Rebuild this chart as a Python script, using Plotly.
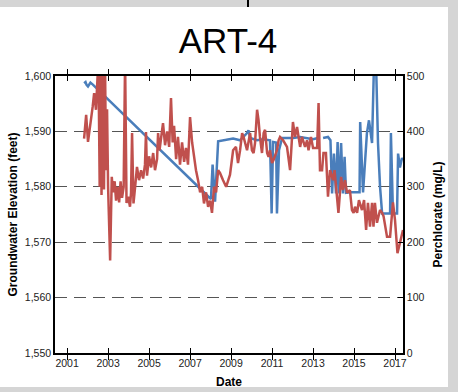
import plotly.graph_objects as go

# Groundwater elevation (feet) - left axis
elev_year = [2001.83, 2001.90, 2001.95, 2002.02, 2002.14, 2002.27, 2007.90, 2008.02, 2008.10, 2008.22,
             2008.37, 2008.71, 2009.10, 2009.44, 2009.78, 2009.85, 2009.93, 2010.27, 2010.56, 2010.90,
             2010.98, 2011.05, 2011.20, 2011.24, 2011.34, 2011.49, 2011.73, 2012.02, 2012.37, 2012.71,
             2013.00, 2013.24, 2013.36, 2013.49, 2013.73, 2013.85, 2013.93, 2014.02, 2014.12, 2014.20,
             2014.27, 2014.37, 2014.46, 2014.54, 2014.61, 2014.80, 2015.15, 2015.27, 2015.30, 2015.44,
             2015.63, 2015.73, 2015.88, 2015.98, 2016.07, 2016.17, 2016.27, 2016.37, 2016.76, 2016.80,
             2016.90, 2017.10, 2017.15, 2017.24, 2017.34, 2017.39]
elev_val = [1598.7, 1598.9, 1598.4, 1598.1, 1598.8, 1598.4, 1578.2, 1577.8, 1584.0, 1577.3,
            1588.2, 1588.4, 1588.7, 1588.4, 1589.7, 1590.2, 1588.8, 1588.4, 1588.6, 1588.4,
            1575.2, 1588.1, 1588.0, 1575.2, 1586.6, 1588.8, 1588.8, 1588.8, 1589.0, 1588.8,
            1588.6, 1588.8, None, 1588.8, 1589.0, 1588.4, 1578.8, 1586.0, 1578.8, 1588.1,
            1578.8, 1587.9, 1578.8, 1585.4, 1578.9, 1579.0, 1579.0, 1579.0, 1591.7, 1579.0,
            1589.7, 1592.0, 1587.9, 1603.0, 1603.0, 1587.9, 1580.0, 1575.2, 1575.2, 1589.7,
            1575.2, 1575.2, 1586.0, 1583.5, 1585.2, 1584.8]

# Perchlorate (mg/L) - right axis
perc_year = [2001.83, 2001.93, 2002.02, 2002.16, 2002.25, 2002.32, 2002.41, 2002.48, 2002.53, 2002.59,
             2002.63, 2002.68, 2002.73, 2002.80, 2002.85, 2002.90, 2002.95, 2003.00, 2003.10, 2003.18,
             2003.24, 2003.32, 2003.39, 2003.46, 2003.54, 2003.61, 2003.68, 2003.76, 2003.83, 2003.90,
             2003.98, 2004.07, 2004.12, 2004.17, 2004.24, 2004.32, 2004.41, 2004.51, 2004.61, 2004.71,
             2004.80, 2004.85, 2004.90, 2005.00, 2005.10, 2005.20, 2005.29, 2005.39, 2005.44, 2005.51,
             2005.59, 2005.68, 2005.78, 2005.88, 2005.98, 2006.07, 2006.15, 2006.22, 2006.32, 2006.41,
             2006.51, 2006.61, 2006.71, 2006.80, 2006.90, 2007.00, 2007.10, 2007.20, 2007.29, 2007.39,
             2007.49, 2007.59, 2007.68, 2007.78, 2007.88, 2007.98, 2008.07, 2008.17, 2008.27, 2008.37,
             2008.46, 2008.61, 2008.76, 2008.95, 2009.10, 2009.24, 2009.34, 2009.44, 2009.54, 2009.61,
             2009.78, 2009.93, 2010.02, 2010.10, 2010.17, 2010.27, 2010.34, 2010.41, 2010.51, 2010.59,
             2010.66, 2010.76, 2010.83, 2010.90, 2011.00, 2011.07, 2011.24, 2011.32, 2011.39, 2011.54,
             2011.73, 2011.88, 2012.02, 2012.12, 2012.22, 2012.37, 2012.46, 2012.61, 2012.71, 2012.78,
             2012.90, 2013.00, 2013.20, 2013.27, 2013.34, 2013.44, 2013.51, 2013.63, 2013.73, 2013.83,
             2013.98, 2014.05, 2014.17, 2014.24, 2014.37, 2014.46, 2014.56, 2014.66, 2014.80, 2014.90,
             2014.98, 2015.05, 2015.15, 2015.24, 2015.39, 2015.49, 2015.59, 2015.68, 2015.78, 2015.88,
             2015.95, 2016.02, 2016.12, 2016.20, 2016.27, 2016.37, 2016.44, 2016.61, 2016.76, 2016.90,
             2017.00, 2017.12, 2017.24, 2017.39]
perc_val = [387, 430, 381, 415, 445, 469, 439, 493, 525, 300,
            525, 285, 525, 295, 525, 330, 440, 300, 167, 318,
            290, 310, 275, 300, 272, 310, 280, 300, 530, 271,
            282, 264, 290, 397, 270, 300, 336, 312, 330, 315,
            340, 399, 320, 355, 335, 361, 330, 350, 397, 366,
            390, 415, 375, 400, 372, 460, 380, 410, 350, 390,
            340, 380, 345, 370, 340, 426, 380, 350, 330, 312,
            290, 300, 270, 290, 264, 275, 253, 300, 290, 330,
            325, 312, 300, 322, 366, 372, 343, 366, 397, 390,
            366, 397, 366, 361, 379, 439, 421, 390, 361, 397,
            403, 361, 354, 366, 343, 348, 366, 384, 390, 384,
            372, 330, 417, 390, 408, 372, 390, 372, 384, 366,
            390, 370, 370, 451, 330, 330, 361, 361, 282, 330,
            312, 330, 282, 253, 318, 294, 312, 289, 294, 258,
            253, 264, 253, 276, 258, 276, 222, 271, 228, 271,
            228, 271, 235, 247, 258, 253, 247, 210, 210, 272,
            240, 180, 199, 222]

x_ticks = [2001, 2003, 2005, 2007, 2009, 2011, 2013, 2015, 2017]

FONT = "Arial, Liberation Sans, sans-serif"
W, H = 458, 392
L, R, T, B = 55, 55, 76, 39
pw, ph = W - L - R, H - T - B

def px(x):
    return (x - L) / pw

def py(y):
    return (H - B - y) / ph

fig = go.Figure()
fig.add_trace(go.Scatter(x=perc_year, y=perc_val, mode="lines", yaxis="y2",
                         line=dict(color="#c0504d", width=2.5), name="Perchlorate"))
fig.add_trace(go.Scatter(x=elev_year, y=elev_val, mode="lines",
                         line=dict(color="#4a7ebb", width=2.5), name="Groundwater Elevation",
                         connectgaps=False))

shapes = [
    dict(type="rect", xref="paper", yref="paper", x0=px(0), x1=px(448), y0=py(387), y1=py(7),
         fillcolor="white", line=dict(width=0), layer="below"),
    dict(type="line", xref="paper", yref="paper", x0=px(248), x1=px(248), y0=py(7), y1=py(0),
         line=dict(color="black", width=2)),
]

fig.update_layout(
    width=W, height=H, autosize=False,
    margin=dict(l=L, r=R, t=T, b=B),
    paper_bgcolor="#d5d5d5", plot_bgcolor="white",
    showlegend=False,
    shapes=shapes,
    title=dict(text="ART-4", x=228 / W, xanchor="center", y=1 - 41 / H, yanchor="middle",
               xref="container", yref="container",
               font=dict(family=FONT, size=35, color="black")),
    xaxis=dict(range=[2000.41, 2017.39], tickvals=x_ticks, ticktext=[str(v) for v in x_ticks],
               ticks="inside", ticklen=5, tickcolor="black", showline=True, linecolor="black",
               linewidth=1.5, mirror="allticks", showgrid=False, zeroline=False, automargin=False,
               tickfont=dict(family=FONT, size=10.5, color="#222"),
               title=dict(text="<b>Date</b>", font=dict(family=FONT, size=12, color="black"), standoff=9)),
    yaxis=dict(range=[1550, 1600], dtick=10, tickformat=",", ticks="", showline=True,
               linecolor="black", linewidth=1.5, showgrid=True, gridcolor="#555", gridwidth=1,
               griddash="12px,7px", zeroline=False, automargin=False,
               tickfont=dict(family=FONT, size=10.5, color="#222"),
               title=dict(text="<b>Groundwater Elevation (feet)</b>",
                          font=dict(family=FONT, size=12, color="black"), standoff=5)),
    yaxis2=dict(range=[0, 500], dtick=100, overlaying="y", side="right", ticks="inside",
                ticklen=5, tickcolor="black", showline=True, linecolor="black", linewidth=1.5,
                showgrid=False, zeroline=False, automargin=False,
                tickfont=dict(family=FONT, size=10.5, color="#222"),
                title=dict(text="<b>Perchlorate (mg/L)</b>",
                           font=dict(family=FONT, size=12, color="black"), standoff=10)),
)

fig.write_html("out.html")
